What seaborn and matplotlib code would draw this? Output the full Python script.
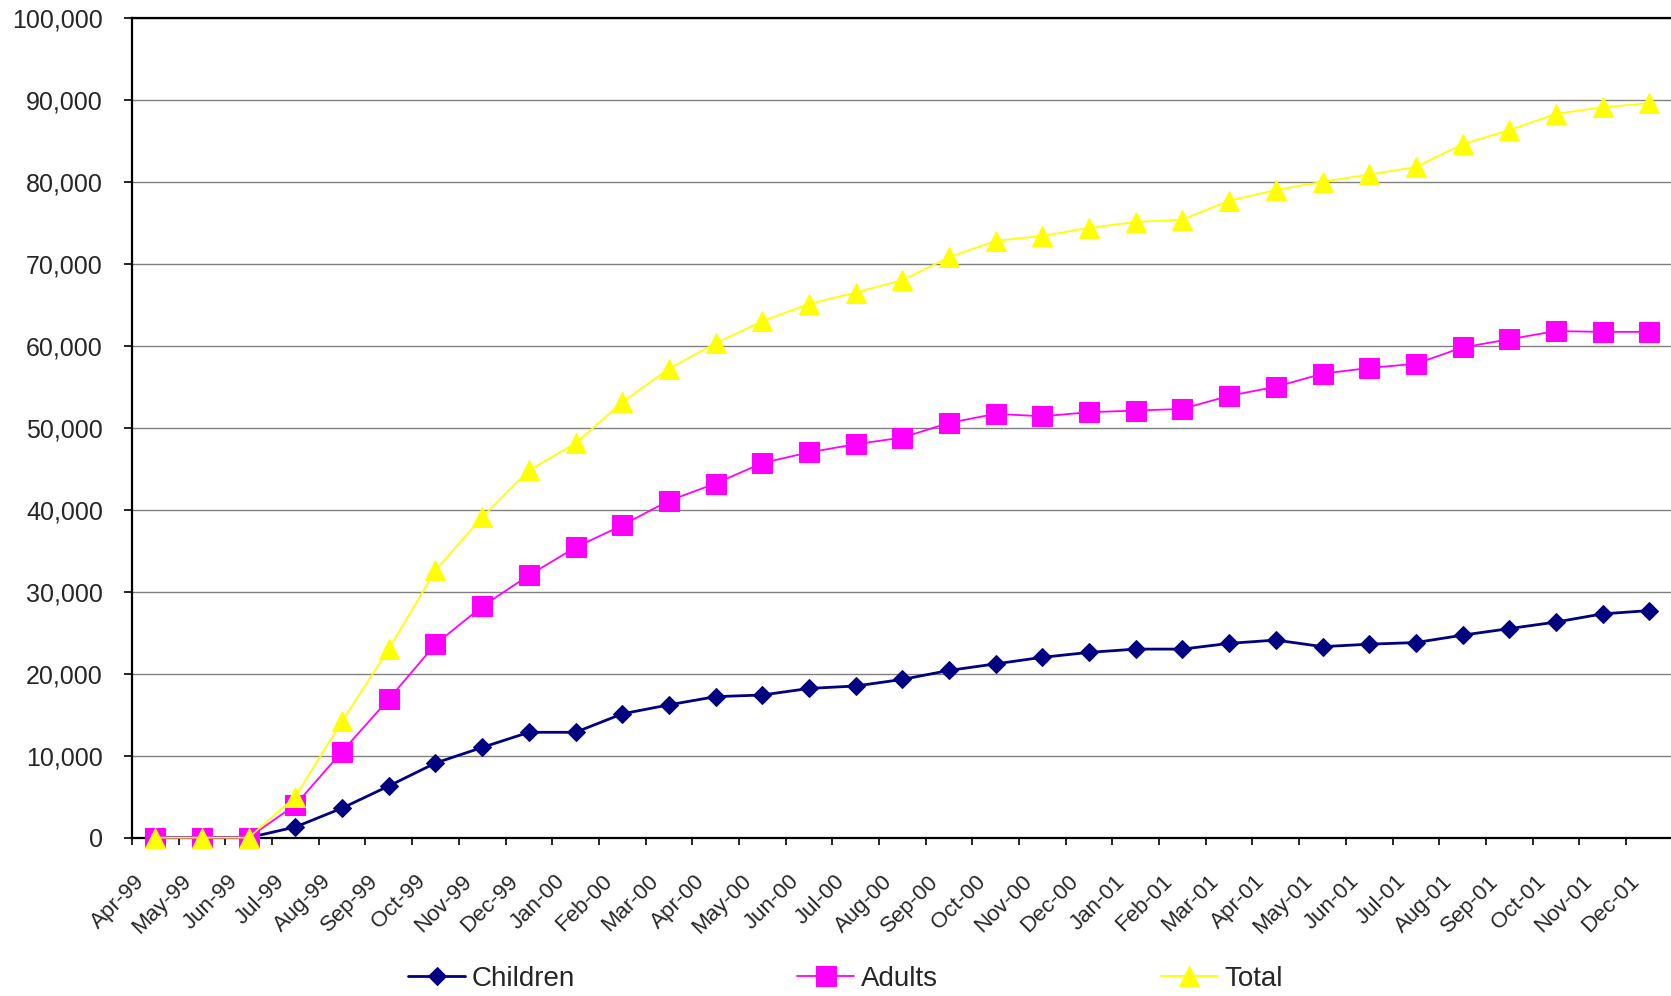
import numpy as np
import pandas as pd
import matplotlib
matplotlib.use("Agg")
import matplotlib.pyplot as plt
import matplotlib.transforms as mtransforms
import matplotlib.ticker as ticker
import seaborn as sns

# ── Data ──────────────────────────────────────────────────────────────────────
months = [
    "Apr-99", "May-99", "Jun-99", "Jul-99", "Aug-99", "Sep-99", "Oct-99",
    "Nov-99", "Dec-99", "Jan-00", "Feb-00", "Mar-00", "Apr-00", "May-00",
    "Jun-00", "Jul-00", "Aug-00", "Sep-00", "Oct-00", "Nov-00", "Dec-00",
    "Jan-01", "Feb-01", "Mar-01", "Apr-01", "May-01", "Jun-01", "Jul-01",
    "Aug-01", "Sep-01", "Oct-01", "Nov-01", "Dec-01",
]
children = [
    0, 0, 0, 1300, 3600, 6300, 9100, 11000, 12850, 12850, 15100, 16200,
    17200, 17400, 18200, 18500, 19300, 20400, 21200, 22000, 22600, 23000,
    23000, 23700, 24100, 23300, 23600, 23800, 24700, 25500, 26300, 27300,
    27700,
]
adults = [
    0, 0, 0, 4000, 10500, 16900, 23600, 28200, 32000, 35400, 38100, 41100,
    43200, 45700, 47000, 48000, 48800, 50600, 51700, 51400, 51900, 52100,
    52300, 53900, 55000, 56600, 57300, 57800, 59800, 60800, 61800, 61700,
    61700,
]
total = [
    0, 0, 0, 5000, 14200, 23000, 32600, 39100, 44800, 48100, 53100, 57200,
    60300, 63000, 65100, 66500, 68000, 70800, 72800, 73400, 74400, 75100,
    75400, 77700, 79000, 80000, 80900, 81800, 84600, 86300, 88300, 89100,
    89600,
]

df = pd.DataFrame({
    "pos": np.arange(len(months)),
    "Children": children,
    "Adults": adults,
    "Total": total,
})

# ── Style ─────────────────────────────────────────────────────────────────────
sns.set_style("white")
plt.rcParams["font.family"] = ["Liberation Sans", "DejaVu Sans"]

fig = plt.figure(figsize=(16.71, 9.96), dpi=100)
ax = fig.add_axes([0.079, 0.159, 0.922, 0.823])

series = [
    ("Children", "#000080", "D", 9, 2.0),
    ("Adults", "#FF00FF", "s", 14, 1.3),
    ("Total", "#FFFF00", "^", 14, 1.3),
]
for name, color, marker, msize, lw in series:
    sns.lineplot(
        data=df, x="pos", y=name, ax=ax, color=color, marker=marker,
        markersize=msize, markeredgecolor=color, linewidth=lw,
        label=name, sort=False, clip_on=False, zorder=3,
    )

# ── Axes ──────────────────────────────────────────────────────────────────────
ax.set_xlim(-0.5, len(months) - 0.5)
ax.set_ylim(0, 100000)
ax.set_xlabel("")
ax.set_ylabel("")

ax.yaxis.set_major_locator(ticker.MultipleLocator(10000))
ax.yaxis.set_major_formatter(ticker.FuncFormatter(lambda v, _: f"{int(v):,}"))
ax.grid(axis="y", color="#808080", linewidth=1.0, zorder=0)
ax.grid(axis="x", visible=False)
ax.set_axisbelow(True)

# category labels in the middle, tick marks between categories
ax.set_xticks(df["pos"])
ax.set_xticklabels(months)
ax.set_xticks(np.arange(-0.5, len(months), 1), minor=True)
ax.tick_params(axis="x", which="major", length=0, pad=24, labelsize=16)
ax.tick_params(axis="x", which="minor", length=5, width=1.2, color="black",
               direction="out", bottom=True)
ax.tick_params(axis="y", length=6, width=1.2, color="black", direction="out",
               left=True, pad=15, labelsize=18)

offset = mtransforms.ScaledTranslation(-21 / 100, 0, fig.dpi_scale_trans)
for lab in ax.get_xticklabels():
    lab.set_rotation(45)
    lab.set_ha("right")
    lab.set_va("top")
    lab.set_rotation_mode("anchor")
    lab.set_transform(lab.get_transform() + offset)

for side in ["left", "bottom", "top", "right"]:
    ax.spines[side].set_visible(True)
    ax.spines[side].set_color("black")
    ax.spines[side].set_linewidth(1.6)

# ── Legend ────────────────────────────────────────────────────────────────────
handles, labels = ax.get_legend_handles_labels()
ax.get_legend().remove()
fig.legend(
    handles, labels, loc="center", bbox_to_anchor=(0.506, 0.017), ncol=3,
    frameon=False, fontsize=20, handlelength=2.05, handletextpad=0.25,
    columnspacing=8.0, borderpad=0.2,
)

fig.savefig("out.png", dpi=100)
